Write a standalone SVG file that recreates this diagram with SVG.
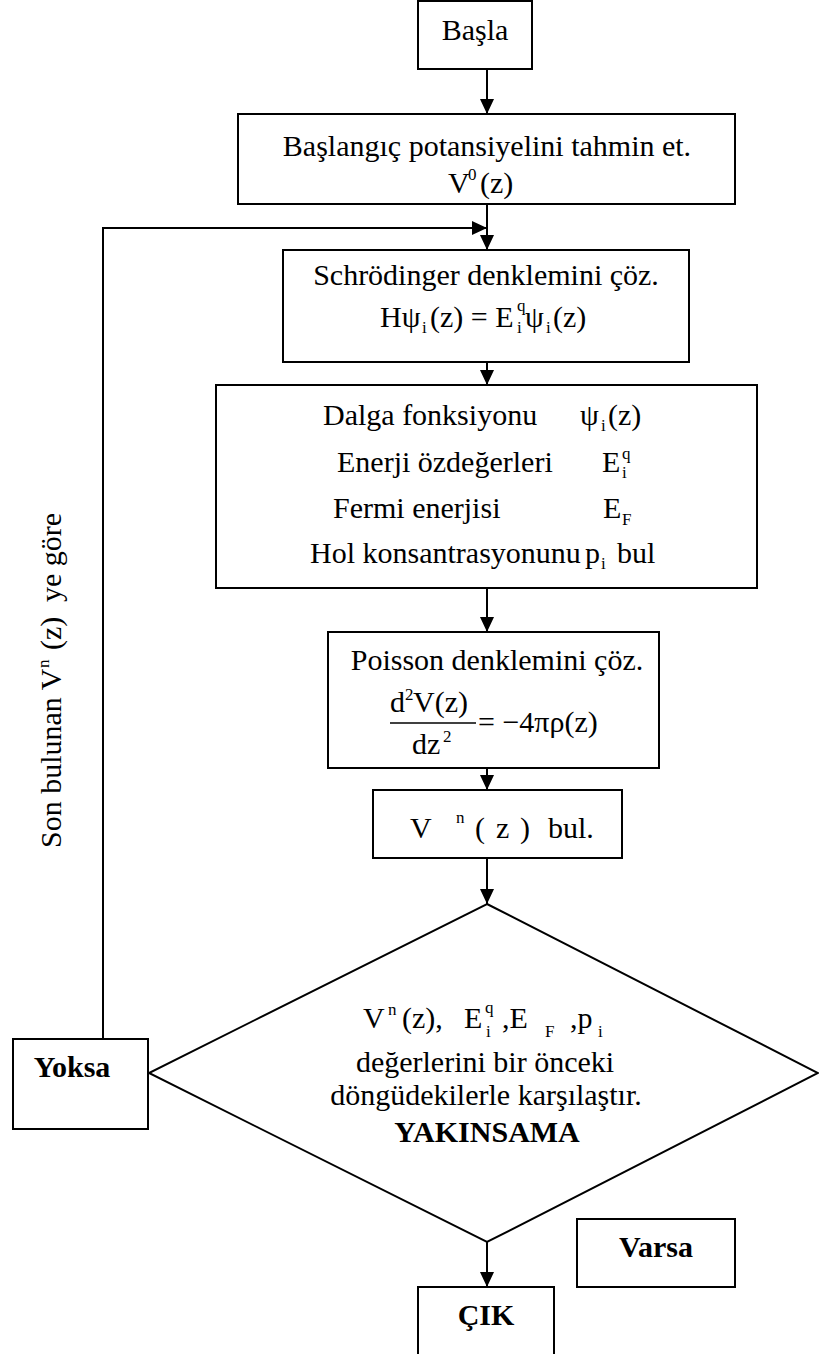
<svg xmlns="http://www.w3.org/2000/svg" width="819" height="1354" viewBox="0 0 819 1354">
<style>
.box{fill:#fff;stroke:#000;stroke-width:2}
.ln{fill:none;stroke:#000;stroke-width:2}
.t{font-family:'Liberation Serif','DejaVu Serif',serif;font-size:30px;fill:#000}
.b{font-weight:bold}
.s{font-size:17px}
</style>
<defs>
<marker id="ah" markerUnits="userSpaceOnUse" markerWidth="16" markerHeight="16" refX="15" refY="7" orient="auto">
<path d="M0,0 L15,7 L0,14 z" fill="#000"/>
</marker>
</defs>
<rect width="819" height="1354" fill="#fff"/>
<g id="connectors">
<line class="ln" x1="487" y1="69" x2="487" y2="114" marker-end="url(#ah)"/>
<line class="ln" x1="487" y1="204" x2="487" y2="250" marker-end="url(#ah)"/>
<polyline class="ln" points="103,1039 103,228 487,228" marker-end="url(#ah)"/>
<line class="ln" x1="487" y1="362" x2="487" y2="385" marker-end="url(#ah)"/>
<line class="ln" x1="487" y1="588" x2="487" y2="632" marker-end="url(#ah)"/>
<line class="ln" x1="487" y1="768" x2="487" y2="790" marker-end="url(#ah)"/>
<line class="ln" x1="487" y1="858" x2="487" y2="904" marker-end="url(#ah)"/>
<line class="ln" x1="487" y1="1242" x2="487" y2="1287" marker-end="url(#ah)"/>
</g>
<g font-family="Liberation Serif, DejaVu Serif, serif" font-size="30">
<g id="basla">
<rect class="box" x="418" y="1" width="114" height="68"/>
<text class="t" x="475" y="40" text-anchor="middle">Başla</text>
</g>
<g id="baslangic">
<rect class="box" x="238" y="114" width="497" height="90"/>
<text class="t" x="487" y="156" text-anchor="middle">Başlangıç potansiyelini tahmin et.</text>
<text class="t" x="448" y="193">V<tspan class="s" x="468" y="180">0</tspan><tspan x="480" y="193">(z)</tspan></text>
</g>
<g id="schrodinger">
<rect class="box" x="283" y="250" width="406" height="112"/>
<text class="t" x="486" y="285" text-anchor="middle">Schrödinger denklemini çöz.</text>
<text class="t" x="380" y="327">Hψ<tspan class="s" x="422" y="333">i</tspan><tspan x="430" y="327">(z) = E</tspan><tspan class="s" x="517" y="311">q</tspan><tspan class="s" x="517" y="333">i</tspan><tspan x="525" y="327">ψ</tspan><tspan class="s" x="546" y="333">i</tspan><tspan x="553" y="327">(z)</tspan></text>
</g>
<g id="dalga">
<rect class="box" x="216" y="385" width="541" height="203"/>
<text class="t" x="323" y="425">Dalga fonksiyonu</text>
<text class="t" x="580" y="425">ψ<tspan class="s" x="601" y="431">i</tspan><tspan x="608" y="425">(z)</tspan></text>
<text class="t" x="337" y="472">Enerji özdeğerleri</text>
<text class="t" x="602" y="472">E<tspan class="s" x="622" y="459">q</tspan><tspan class="s" x="622" y="478">i</tspan></text>
<text class="t" x="333" y="518">Fermi enerjisi</text>
<text class="t" x="603" y="518">E<tspan class="s" x="622" y="525">F</tspan></text>
<text class="t" x="310" y="563">Hol konsantrasyonunu</text>
<text class="t" x="585" y="563">p<tspan class="s" x="601" y="569">i</tspan><tspan x="617" y="563">bul</tspan></text>
</g>
<g id="poisson">
<rect class="box" x="328" y="632" width="331" height="136"/>
<text class="t" x="497" y="670" text-anchor="middle">Poisson denklemini çöz.</text>
<text class="t" x="390" y="712">d<tspan class="s" x="405" y="700">2</tspan><tspan x="413" y="712">V(z)</tspan></text>
<line x1="390" y1="723" x2="476" y2="723" stroke="#000" stroke-width="1.5"/>
<text class="t" x="412" y="754">dz<tspan class="s" x="443" y="742">2</tspan></text>
<text class="t" x="478" y="732">= −4πρ(z)</text>
</g>
<g id="vn">
<rect class="box" x="373" y="790" width="249" height="68"/>
<text class="t" x="410" y="838">V<tspan class="s" x="456" y="823">n</tspan><tspan x="475" y="838">(</tspan><tspan x="496" y="838">z</tspan><tspan x="520" y="838">)</tspan><tspan x="548" y="838">bul.</tspan></text>
</g>
<g id="karar">
<polygon class="box" points="487,904 818,1073 487,1242 149,1073"/>
<text class="t" x="363" y="1028">V<tspan class="s" x="388" y="1015">n</tspan><tspan x="402" y="1028">(z),</tspan><tspan x="464" y="1028">E</tspan><tspan class="s" x="485" y="1013">q</tspan><tspan class="s" x="486" y="1037">i</tspan><tspan x="502" y="1028">,E</tspan><tspan class="s" x="545" y="1037">F</tspan><tspan x="570" y="1028">,p</tspan><tspan class="s" x="598" y="1037">i</tspan></text>
<text class="t" x="485" y="1072" text-anchor="middle">değerlerini bir önceki</text>
<text class="t" x="486" y="1105" text-anchor="middle">döngüdekilerle karşılaştır.</text>
<text class="t b" x="487" y="1142" text-anchor="middle">YAKINSAMA</text>
</g>
<g id="yoksa">
<rect class="box" x="13" y="1039" width="135" height="90"/>
<text class="t b" x="72" y="1077" text-anchor="middle">Yoksa</text>
</g>
<g id="varsa">
<rect class="box" x="577" y="1219" width="158" height="68"/>
<text class="t b" x="656" y="1257" text-anchor="middle">Varsa</text>
</g>
<g id="cik">
<path class="box" d="M418,1360 V1287 H554 V1360"/>
<text class="t b" x="486" y="1325" text-anchor="middle">ÇIK</text>
</g>
<g id="geri-etiket">
<text class="t" transform="translate(61,848) rotate(-90)" x="0" y="0">Son bulunan V<tspan class="s" x="180" y="-12">n</tspan><tspan x="198" y="0">(z)</tspan><tspan x="246" y="0">ye göre</tspan></text>
</g>
</g>
</svg>
